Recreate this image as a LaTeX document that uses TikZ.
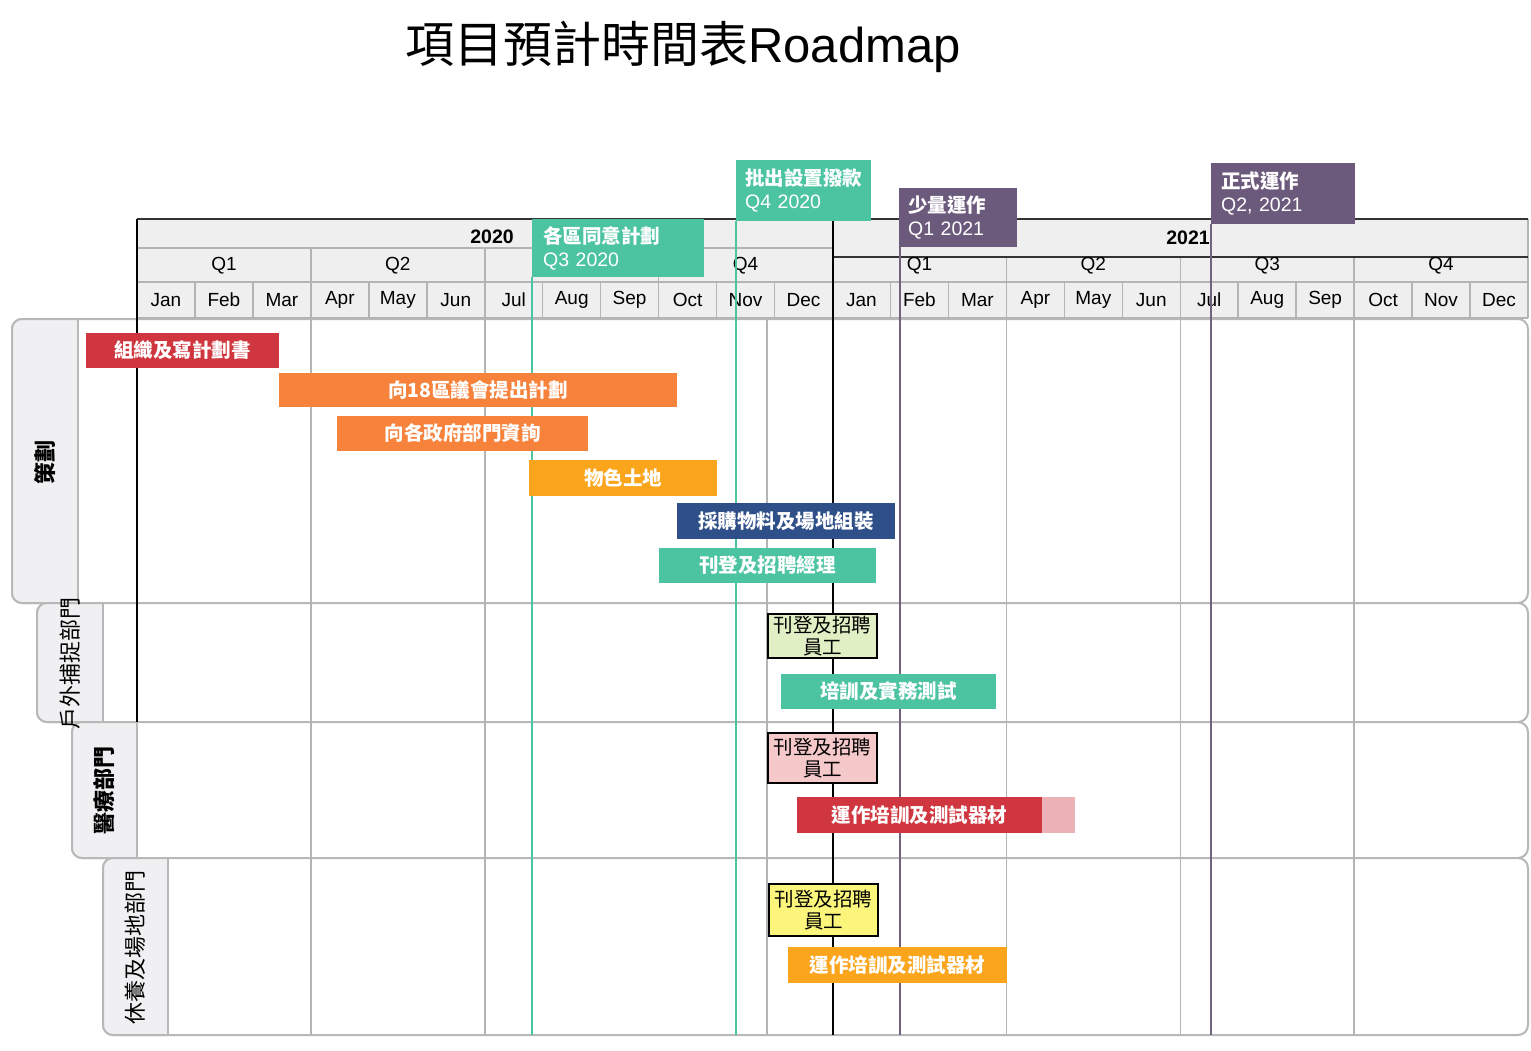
\documentclass[tikz,border=0pt]{standalone}
\usepackage{fontspec}
\setmainfont{Liberation Sans}
\newfontfamily\cjk{Noto Sans CJK TC}
\definecolor{hdrfill}{HTML}{EFEFEF}
\definecolor{gridc}{HTML}{B4B4B4}
\definecolor{lanec}{HTML}{B8B8B8}
\definecolor{tabfill}{HTML}{F0F0F2}
\definecolor{darkc}{HTML}{333333}
\definecolor{mteal}{HTML}{4CC3A1}
\definecolor{mpurple}{HTML}{6C5A7C}
\definecolor{mline}{HTML}{6F6479}
\definecolor{bred}{HTML}{D0363F}
\definecolor{borange}{HTML}{F6823B}
\definecolor{bamber}{HTML}{FAA51C}
\definecolor{bblue}{HTML}{2F4F89}
\definecolor{bpink}{HTML}{EDB2B8}
\definecolor{boxgreen}{HTML}{E1EFC4}
\definecolor{boxpink}{HTML}{F5C8CA}
\definecolor{boxyellow}{HTML}{FBF57C}
\newcommand\mylane[4]{%
  \draw[lanec, line width=2pt, fill=white, rounded corners=10pt] (#3,#1) rectangle (1528,#2);
  \begin{scope}
    \clip (#3-3,#1-3) rectangle (#4,#2+3);
    \draw[lanec, line width=2pt, fill=tabfill, rounded corners=10pt] (#3,#1) rectangle (1528,#2);
  \end{scope}
  \draw[lanec, line width=2pt] (#4,#1) -- (#4,#2);
}
\begin{document}
\begin{tikzpicture}[x=1pt,y=-1pt,
  grid/.style={gridc, line width=1.5pt},
  mon/.style={font=\fontsize{19}{19}\selectfont, inner sep=0},
  yr/.style={font=\bfseries\fontsize{19.5}{19.5}\selectfont, inner sep=0},
  mstone/.style={anchor=north west, inner ysep=0, text=white, align=left,
    font=\fontsize{19.5}{23}\selectfont},
  bar/.style={rectangle, inner sep=0, text=white,
    font=\cjk\bfseries\fontsize{19.5}{22}\selectfont},
  rbox/.style={rectangle, draw=black, line width=1.5pt, inner sep=0, align=center,
    minimum width=109, font=\cjk\fontsize{19.5}{22}\selectfont},
  tablabel/.style={rotate=90, inner sep=0, font=\cjk\fontsize{22}{22}\selectfont}
]
\useasboundingbox (0,0) rectangle (1531,1051);
\fill[white] (0,0) rectangle (1531,1051);

% title
\node[font=\fontsize{49}{49}\selectfont, inner sep=0] (title) at (683,47) {{\cjk 項目預計時間表}Roadmap};

% swimlanes
\mylane{319}{603}{12}{78}
\mylane{603}{722}{37}{103}
\mylane{722}{858}{72}{137}
\mylane{858}{1035}{103}{168}

% header
\fill[hdrfill] (137,219) rectangle (1528,318);
\draw[grid] (137,248) -- (832.5,248);
\draw[grid] (137,282) -- (1528,282);
\draw[grid] (137,318) -- (1528,318);
\draw[grid] (1528,219) -- (1528,318);
\foreach \i in {1,2,3} {
  \draw[grid] ({137+173.875*\i},248) -- ({137+173.875*\i},282);
  \draw[grid] ({832.5+173.875*\i},257) -- ({832.5+173.875*\i},282);
}
\foreach \i in {1,...,23} {
  \draw[grid] ({137+57.958*\i},282) -- ({137+57.958*\i},318);
}
\draw[darkc, line width=2pt] (137,219) -- (1528,219);
\draw[darkc, line width=2pt] (832.5,257) -- (1528,257);

\foreach \m [count=\i from 0] in {Jan,Feb,Mar,Apr,May,Jun,Jul,Aug,Sep,Oct,Nov,Dec,Jan,Feb,Mar,Apr,May,Jun,Jul,Aug,Sep,Oct,Nov,Dec}
  \node[mon] (mon\i) at ({137+57.958*(\i+0.5)},300) {\m};
\foreach \q/\i in {Q1/0,Q2/1,Q4/3,Q1/4,Q2/5,Q3/6,Q4/7}
  \node[mon] (q\i) at ({137+173.875*(\i+0.5)},266) {\q};
\node[yr] (y2020) at (492,237) {2020};
\node[yr] (y2021) at (1188,238) {2021};

% body grid
\foreach \x in {311,485,767,1006.4,1180.25,1354.1}
  \draw[grid] (\x,318) -- (\x,1035);
\draw[black, line width=2pt] (137,219) -- (137,722);
\draw[black, line width=2pt] (832.5,219) -- (832.5,1035);

% milestone lines
\draw[mteal, line width=2pt] (532,277) -- (532,1035);
\draw[mteal, line width=2pt] (736,221) -- (736,1035);
\draw[mline, line width=2pt] (899.5,247) -- (899.5,1035);
\draw[mline, line width=2pt] (1211,224) -- (1211,1035);

% milestone boxes
\node[mstone, fill=mteal, minimum width=172, minimum height=58, inner xsep=11, text width=150] (m1) at (532,219)
  {{\cjk\bfseries 各區同意計劃}\\Q3 2020};
\node[mstone, fill=mteal, minimum width=135, minimum height=61, inner xsep=9, text width=117] (m2) at (736,160)
  {{\cjk\bfseries 批出設置撥款}\\Q4 2020};
\node[mstone, fill=mpurple, minimum width=118, minimum height=59, inner xsep=9, text width=100] (m3) at (899,188)
  {{\cjk\bfseries 少量運作}\\Q1 2021};
\node[mstone, fill=mpurple, minimum width=144, minimum height=61, inner xsep=10, text width=124] (m4) at (1211,163)
  {{\cjk\bfseries 正式運作}\\Q2, 2021};

% task bars - 策劃
\node[bar, fill=bred, minimum width=193, minimum height=35] (t1) at (182.5,350.5) {組織及寫計劃書};
\node[bar, fill=borange, minimum width=398, minimum height=34] (t2) at (478,390) {向18區議會提出計劃};
\node[bar, fill=borange, minimum width=251, minimum height=35] (t3) at (462.5,433.5) {向各政府部門資詢};
\node[bar, fill=bamber, minimum width=188, minimum height=36] (t4) at (623,478) {物色土地};
\node[bar, fill=bblue, minimum width=218, minimum height=36] (t5) at (786,521) {採購物料及場地組裝};
\node[bar, fill=mteal, minimum width=217, minimum height=35] (t6) at (767.5,565.5) {刊登及招聘經理};

% 戶外捕捉部門
\node[rbox, fill=boxgreen, minimum height=44] (t7) at (822.5,636) {刊登及招聘\\員工};
\node[bar, fill=mteal, minimum width=215, minimum height=35] (t8) at (888.5,691.5) {培訓及實務測試};

% 醫療部門
\node[rbox, fill=boxpink, minimum height=50] (t9) at (822.5,758) {刊登及招聘\\員工};
\node[bar, fill=bpink, minimum width=33, minimum height=36] (t10x) at (1058.5,815) {};
\node[bar, fill=bred, minimum width=245, minimum height=36] (t10) at (919.5,815) {運作培訓及測試器材};

% 休養及場地部門
\node[rbox, fill=boxyellow, minimum height=52] (t11) at (823.5,910) {刊登及招聘\\員工};
\node[bar, fill=bamber, minimum width=219, minimum height=36] (t12) at (897.5,965) {運作培訓及測試器材};

% lane labels
\node[tablabel, font=\cjk\bfseries\fontsize{22}{22}\selectfont] (l1) at (45,462) {策劃};
\node[tablabel] (l2) at (70,663) {戶外捕捉部門};
\node[tablabel, font=\cjk\bfseries\fontsize{22}{22}\selectfont] (l3) at (104,790) {醫療部門};
\node[tablabel] (l4) at (135,947) {休養及場地部門};
\end{tikzpicture}
\end{document}
